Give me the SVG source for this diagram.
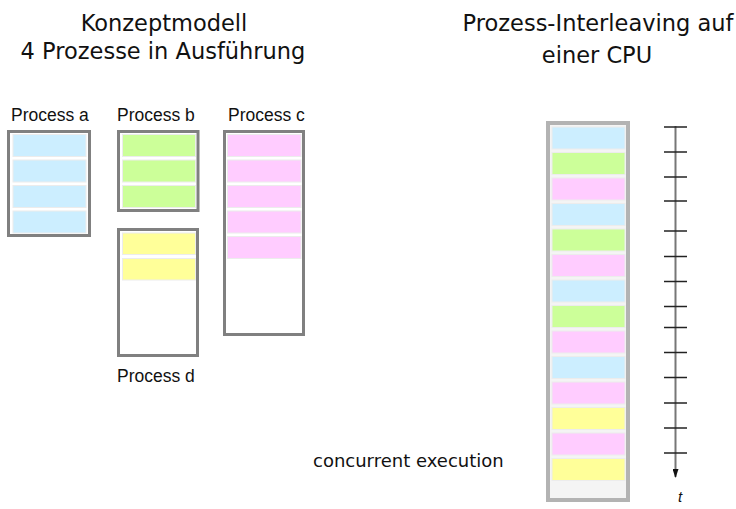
<svg xmlns="http://www.w3.org/2000/svg" width="736" height="509" viewBox="0 0 736 509">
<defs>
<style>
.title{font-family:"DejaVu Sans",Verdana,sans-serif;font-size:22.5px;fill:#111;text-anchor:middle}
.lbl{font-family:"Liberation Sans",Arial,sans-serif;font-size:17.5px;fill:#111}
.note{font-family:"DejaVu Sans",Verdana,sans-serif;font-size:18px;fill:#111}
.box{fill:#fff;stroke:#808080;stroke-width:3}
.cpu{fill:#f4f4f4;stroke:#b3b3b3;stroke-width:4}
.s{stroke:#ececec;stroke-width:1}
.a{fill:#cceeff}
.b{fill:#ccff99}
.c{fill:#ffccff}
.d{fill:#ffff99}
.tick{stroke:#222;stroke-width:1.5}
</style>
<marker id="arr" markerWidth="9" markerHeight="6" refX="8" refY="3" orient="auto" markerUnits="userSpaceOnUse" viewBox="0 0 9 6">
<path d="M0,0 L9,3 L0,6 Z" fill="#111"/>
</marker>
</defs>
<rect width="736" height="509" fill="#fff"/>
<text class="title" x="164" y="31">Konzeptmodell</text>
<text class="title" x="163" y="59">4 Prozesse in Ausführung</text>
<text class="title" x="598" y="31">Prozess-Interleaving auf</text>
<text class="title" x="597" y="63">einer CPU</text>

<g id="process-a">
<text class="lbl" x="11" y="121">Process a</text>
<rect class="box" x="8.5" y="131.5" width="81" height="104"/>
<rect class="s a" x="13" y="134.5" width="73" height="22"/>
<rect class="s a" x="13" y="160" width="73" height="22"/>
<rect class="s a" x="13" y="185.5" width="73" height="22"/>
<rect class="s a" x="13" y="211" width="73" height="22"/>
</g>
<g id="process-b">
<text class="lbl" x="117" y="121">Process b</text>
<rect class="box" x="118.5" y="131.5" width="79.5" height="79"/>
<rect class="s b" x="122.5" y="134.5" width="73" height="22"/>
<rect class="s b" x="122.5" y="160" width="73" height="22"/>
<rect class="s b" x="122.5" y="185.5" width="73" height="22"/>
</g>
<g id="process-c">
<text class="lbl" x="228" y="121">Process c</text>
<rect class="box" x="224.5" y="131.5" width="79" height="203"/>
<rect class="s c" x="227.5" y="134.5" width="73.5" height="22"/>
<rect class="s c" x="227.5" y="160" width="73.5" height="22"/>
<rect class="s c" x="227.5" y="185.5" width="73.5" height="22"/>
<rect class="s c" x="227.5" y="211" width="73.5" height="22"/>
<rect class="s c" x="227.5" y="236.5" width="73.5" height="22"/>
</g>
<g id="process-d">
<rect class="box" x="118.5" y="229.5" width="79" height="126"/>
<rect class="s d" x="122.5" y="233" width="73" height="21.5"/>
<rect class="s d" x="122.5" y="258.5" width="73" height="21.5"/>
<text class="lbl" x="117" y="382">Process d</text>
</g>

<g id="cpu">
<rect class="cpu" x="548" y="123" width="80" height="377"/>
<rect class="s a" x="552" y="127" width="73" height="22"/>
<rect class="s b" x="552" y="152.5" width="73" height="22"/>
<rect class="s c" x="552" y="178" width="73" height="22"/>
<rect class="s a" x="552" y="203.5" width="73" height="22"/>
<rect class="s b" x="552" y="229" width="73" height="22"/>
<rect class="s c" x="552" y="254.5" width="73" height="22"/>
<rect class="s a" x="552" y="280" width="73" height="22"/>
<rect class="s b" x="552" y="305.5" width="73" height="22"/>
<rect class="s c" x="552" y="331" width="73" height="22"/>
<rect class="s a" x="552" y="356.5" width="73" height="22"/>
<rect class="s c" x="552" y="382" width="73" height="22"/>
<rect class="s d" x="552" y="407.5" width="73" height="22"/>
<rect class="s c" x="552" y="433" width="73" height="22"/>
<rect class="s d" x="552" y="458.5" width="73" height="22"/>
</g>

<g id="connectors">
<line x1="675.5" y1="126" x2="675.5" y2="477" stroke="#777" stroke-width="2" marker-end="url(#arr)"/>
<g class="tick">
<line x1="664" y1="127" x2="687" y2="127"/>
<line x1="664" y1="152" x2="687" y2="152"/>
<line x1="664" y1="177" x2="687" y2="177"/>
<line x1="664" y1="201" x2="687" y2="201"/>
<line x1="664" y1="231" x2="687" y2="231"/>
<line x1="664" y1="256.5" x2="687" y2="256.5"/>
<line x1="664" y1="281.5" x2="687" y2="281.5"/>
<line x1="664" y1="306.5" x2="687" y2="306.5"/>
<line x1="664" y1="327.5" x2="687" y2="327.5"/>
<line x1="664" y1="352.5" x2="687" y2="352.5"/>
<line x1="664" y1="377.5" x2="687" y2="377.5"/>
<line x1="664" y1="403" x2="687" y2="403"/>
<line x1="664" y1="428" x2="687" y2="428"/>
<line x1="664" y1="453" x2="687" y2="453"/>
</g>
</g>
<text x="678" y="502" font-family="'Liberation Sans',Arial,sans-serif" font-size="15" font-style="italic" fill="#111">t</text>

<text class="note" x="313" y="467">concurrent execution</text>
</svg>
